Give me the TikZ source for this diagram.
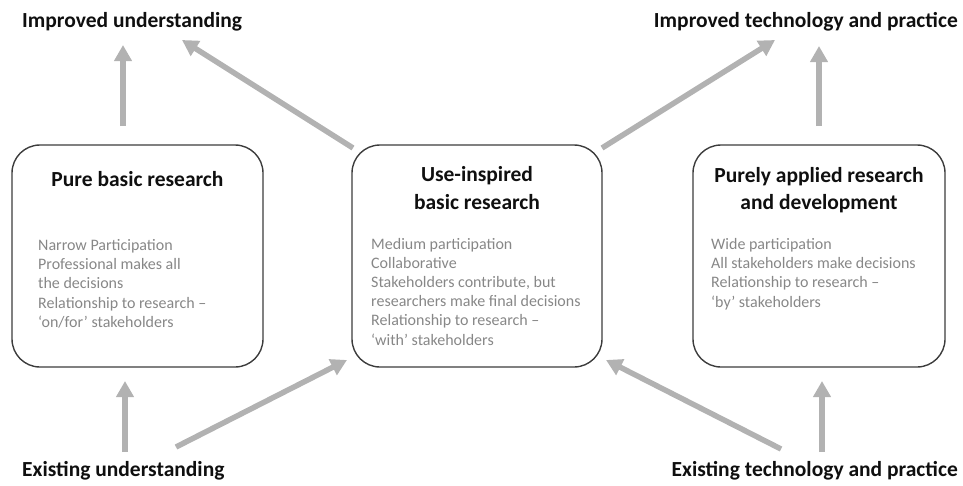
\documentclass[tikz,border=0pt]{standalone}
\usepackage{fontspec}
\setmainfont{Carlito}
\usetikzlibrary{arrows.meta}
\definecolor{boxc}{RGB}{60,60,60}
\definecolor{bodyc}{RGB}{135,135,135}
\definecolor{titlec}{RGB}{15,15,15}
\definecolor{arrc}{RGB}{178,178,178}
\tikzset{
  box/.style={draw=boxc, line width=1.4pt, rounded corners=28pt, inner sep=0pt, outer sep=0pt, minimum height=222pt, anchor=north west},
  title/.style={font=\fontsize{21.5}{26}\selectfont\bfseries, text=titlec, inner sep=0pt},
  body/.style={font=\fontsize{16}{19.5}\selectfont, text=bodyc, inner sep=0pt, anchor=base west},
  arr/.style={draw=arrc, line width=5.5pt, -{Triangle[width=17pt,length=16pt]}}
}
\begin{document}
\begin{tikzpicture}[x=1pt,y=1pt]
\useasboundingbox (0,0) rectangle (963,-485);
% boxes
\node[box, minimum width=251pt] (pure) at (12,-145) {};
\node[box, minimum width=250pt] (use) at (352,-145) {};
\node[box, minimum width=252pt] (app) at (693,-145) {};
% titles
\node[title, anchor=base] (pureT) at (137.5,-186) {Pure basic research};
\node[title, anchor=base] (useT1) at (477,-181) {Use-inspired};
\node[title, anchor=base] (useT2) at (477,-209) {basic research};
\node[title, anchor=base] (appT1) at (819,-182) {Purely applied research};
\node[title, anchor=base] (appT2) at (819,-209) {and development};
% bodies
\foreach \t [count=\i, evaluate=\i as \yy using -250-(\i-1)*19.4] in
  {Narrow Participation, Professional makes all, the decisions, {Relationship to research –}, {‘on/for’ stakeholders}}
  \node[body] (pb\i) at (38,\yy) {\t};
\foreach \t [count=\i, evaluate=\i as \yy using -249-(\i-1)*19.2] in
  {Medium participation, Collaborative, {Stakeholders contribute, but}, researchers make final decisions, {Relationship to research –}, {‘with’ stakeholders}}
  \node[body] (ub\i) at (371,\yy) {\t};
\foreach \t [count=\i, evaluate=\i as \yy using -249-(\i-1)*19.4] in
  {Wide participation, All stakeholders make decisions, {Relationship to research –}, {‘by’ stakeholders}}
  \node[body] (ab\i) at (711,\yy) {\t};
% outer labels
\node[title, anchor=base west] (impU) at (22,-27) {Improved understanding};
\node[title, anchor=base east] (impT) at (958,-27) {Improved technology and practice};
\node[title, anchor=base west] (exU) at (22,-476) {Existing understanding};
\node[title, anchor=base east] (exT) at (958,-476) {Existing technology and practice};
% arrow end points
\coordinate (a1s) at (123,-126); \coordinate (a1e) at (123,-45);
\coordinate (a2s) at (353,-148); \coordinate (a2e) at (182,-40);
\coordinate (a3s) at (602,-148); \coordinate (a3e) at (775,-40);
\coordinate (a4s) at (819,-126); \coordinate (a4e) at (819,-46);
\coordinate (a5s) at (125,-452); \coordinate (a5e) at (125,-381);
\coordinate (a6s) at (176,-447); \coordinate (a6e) at (347,-360);
\coordinate (a7s) at (781,-449); \coordinate (a7e) at (606,-360);
\coordinate (a8s) at (822,-452); \coordinate (a8e) at (822,-381);
\foreach \k in {1,...,8} \draw[arr] (a\k s) -- (a\k e);
\end{tikzpicture}
\end{document}
